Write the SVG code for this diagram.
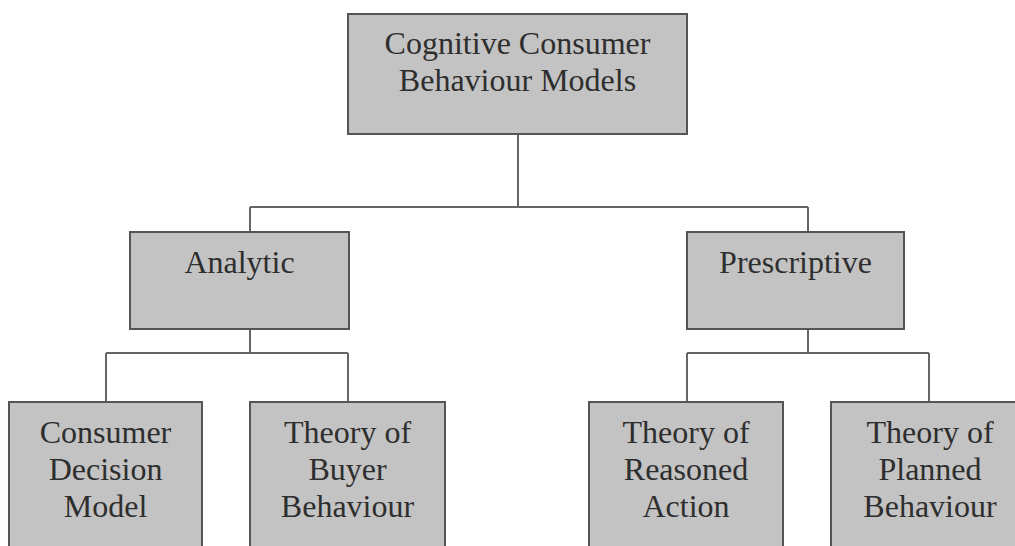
<svg xmlns="http://www.w3.org/2000/svg" width="1015" height="546" viewBox="0 0 1015 546">
<style>
.box{fill:#c3c3c3;stroke:#555;stroke-width:2}
.lbl{font-family:"Liberation Serif","Times New Roman",serif;font-size:32px;fill:#2e2e2e;text-anchor:middle}
.conn{fill:none;stroke:#666;stroke-width:2}
</style>
<rect width="1015" height="546" fill="#fff"/>
<g id="connectors">
<path class="conn" d="M518 134V207M250 207H808M250 207V232M808 207V232"/>
<path class="conn" d="M250 329V353M106 353H348M106 353V402M348 353V402"/>
<path class="conn" d="M808 329V353M687 353H929M687 353V402M929 353V402"/>
</g>
<g id="root">
<rect class="box" x="348" y="14" width="339" height="120"/>
<text class="lbl" x="517.5" y="54">Cognitive Consumer</text>
<text class="lbl" x="517.5" y="91">Behaviour Models</text>
</g>
<g id="analytic">
<rect class="box" x="130" y="232" width="219" height="97"/>
<text class="lbl" x="239.5" y="273">Analytic</text>
</g>
<g id="prescriptive">
<rect class="box" x="687" y="232" width="217" height="97"/>
<text class="lbl" x="795.5" y="273">Prescriptive</text>
</g>
<g id="consumer-decision">
<rect class="box" x="9" y="402" width="193" height="146"/>
<text class="lbl" x="105.5" y="443">Consumer</text>
<text class="lbl" x="105.5" y="480">Decision</text>
<text class="lbl" x="105.5" y="517">Model</text>
</g>
<g id="buyer-behaviour">
<rect class="box" x="250" y="402" width="195" height="146"/>
<text class="lbl" x="347.5" y="443">Theory of</text>
<text class="lbl" x="347.5" y="480">Buyer</text>
<text class="lbl" x="347.5" y="517">Behaviour</text>
</g>
<g id="reasoned-action">
<rect class="box" x="589" y="402" width="194" height="146"/>
<text class="lbl" x="686" y="443">Theory of</text>
<text class="lbl" x="686" y="480">Reasoned</text>
<text class="lbl" x="686" y="517">Action</text>
</g>
<g id="planned-behaviour">
<rect class="box" x="831" y="402" width="196" height="146"/>
<text class="lbl" x="930" y="443">Theory of</text>
<text class="lbl" x="930" y="480">Planned</text>
<text class="lbl" x="930" y="517">Behaviour</text>
</g>
</svg>
